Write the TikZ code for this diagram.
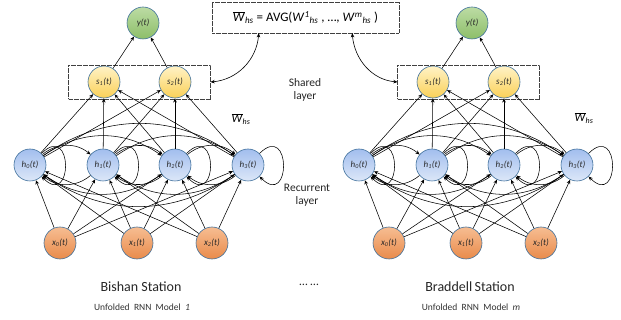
\documentclass[tikz,border=0pt]{standalone}
\usepackage{fontspec}
\setmainfont{Carlito}
\usetikzlibrary{arrows.meta,fit}

\definecolor{rimcol}{HTML}{41719C}
\definecolor{ytop}{HTML}{BCDCA4}
\definecolor{ybot}{HTML}{8DBE69}
\definecolor{stop}{HTML}{FFF2C6}
\definecolor{sbot}{HTML}{FAD158}
\definecolor{htop}{HTML}{A2BEEE}
\definecolor{hbot}{HTML}{DCE7F8}
\definecolor{xtop}{HTML}{F6BD92}
\definecolor{xbot}{HTML}{E98B4B}
\definecolor{labelcol}{HTML}{262626}

\tikzset{
  neuron/.style={circle, draw=rimcol, line width=0.6pt, minimum size=32pt,
    inner sep=0pt, text=labelcol, font=\fontsize{9}{10}\selectfont\itshape},
  ynode/.style={neuron, top color=ytop, bottom color=ybot},
  snode/.style={neuron, top color=stop, bottom color=sbot},
  hnode/.style={neuron, top color=htop, bottom color=hbot},
  xnode/.style={neuron, top color=xtop, bottom color=xbot},
  conn/.style={-{Stealth[length=4.2pt,width=3.6pt]}, line width=0.55pt},
  biconn/.style={{Stealth[length=4.2pt,width=3.6pt]}-{Stealth[length=4.2pt,width=3.6pt]}, line width=0.6pt},
  dotframe/.style={draw=black!75, line width=0.45pt, dash pattern=on 0.5pt off 0.7pt},
  sharedbox/.style={dotframe, inner xsep=19pt, inner ysep=0.5pt},
  station/.style={font=\fontsize{14}{16}\selectfont, text=black!85},
  caption/.style={font=\fontsize{9.5}{11}\selectfont, text=black!80},
  sidelabel/.style={font=\fontsize{11.5}{12.5}\selectfont, align=center, text=black!85},
}

% overlined weight symbol
\newcommand\Wbar{$\overline{\mbox{\textit{W}}}$}

% one unfolded RNN model: #1 name prefix, #2 horizontal offset,
% #3 station name, #4 model index
\newcommand\rnnmodel[4]{%
  \begin{scope}[xshift=#2pt]
    \node[ynode] (#1y) at (143,23) {y(t)};
    \node[snode] (#1s1) at (104,82) {s\textsubscript{1}(t)};
    \node[snode] (#1s2) at (175,82) {s\textsubscript{2}(t)};
    \node[sharedbox, fit=(#1s1)(#1s2)] (#1box) {};
    \node[hnode] (#1h0) at (30,165) {h\textsubscript{0}(t)};
    \node[hnode] (#1h1) at (103,165) {h\textsubscript{1}(t)};
    \node[hnode] (#1h2) at (175,165) {h\textsubscript{2}(t)};
    \node[hnode] (#1h3) at (248,165) {h\textsubscript{3}(t)};
    \node[xnode] (#1x0) at (60,243) {x\textsubscript{0}(t)};
    \node[xnode] (#1x1) at (137,243) {x\textsubscript{1}(t)};
    \node[xnode] (#1x2) at (212,243) {x\textsubscript{2}(t)};
    \node[station] (#1name) at (141,287) {#3};
    \node[caption] (#1cap) at (142,307) {Unfolded\ \ RNN\ \ Model\ \ \textit{#4}};
    % output layer
    \draw[conn] (#1s1) -- (#1y);
    \draw[conn] (#1s2) -- (#1y);
    % hidden to shared layer
    \foreach \i in {0,1,2,3} {
      \draw[conn] (#1h\i) -- (#1s1);
      \draw[conn] (#1h\i) -- (#1s2);
    }
    % inputs to hidden layer
    \foreach \j in {0,1,2} {
      \foreach \i in {0,1,2,3} {
        \draw[conn] (#1x\j) -- (#1h\i);
      }
    }
    % recurrent connections
    \foreach \i in {0,1,2,3} {
      \draw[conn] (#1h\i) to[out=45,in=-45,looseness=5] (#1h\i);
    }
    \foreach \i/\j/\b in {0/1/40,1/2/40,2/3/40,0/2/35,1/3/35,0/3/35} {
      \draw[conn] (#1h\i) to[bend left=\b] (#1h\j);
      \draw[conn] (#1h\j) to[bend left=\b] (#1h\i);
    }
  \end{scope}%
}

\begin{document}
\begin{tikzpicture}[x=1pt, y=-1pt]
  \useasboundingbox (0,0) rectangle (621,320);

  \rnnmodel{a}{0}{Bishan Station}{1}
  \rnnmodel{b}{329}{Braddell\,Station}{m}

  % averaged shared weights
  \node[dotframe, minimum width=187pt, minimum height=31pt, inner sep=0pt,
        font=\fontsize{13}{15}\selectfont] (avg) at (305.5,17.5)
    {\Wbar\textsubscript{\textit{hs}} = AVG(\textit{W}\textsuperscript{\textit{1}}\textsubscript{\textit{hs}} , \ldots, \textit{W}\textsuperscript{\textit{m}}\textsubscript{\textit{hs}} )};

  \draw[biconn] ([xshift=47pt]avg.south west) to[out=-95,in=5] (abox.east);
  \draw[biconn] ([xshift=-47pt]avg.south east) to[out=-85,in=175] (bbox.west);

  \node[font=\fontsize{12}{14}\selectfont] (wa) at (241,119) {\Wbar\textsubscript{\textit{hs}}};
  \node[font=\fontsize{12}{14}\selectfont] (wb) at (584,118) {\Wbar\textsubscript{\textit{hs}}};

  \node[sidelabel] (shared) at (305,90) {Shared\\layer};
  \node[sidelabel] (recur) at (307,195) {Recurrent\\layer};
  \node[font=\fontsize{12}{14}\selectfont, text=black!85] (dots) at (309,285) {\ldots\ \ldots};
\end{tikzpicture}
\end{document}
